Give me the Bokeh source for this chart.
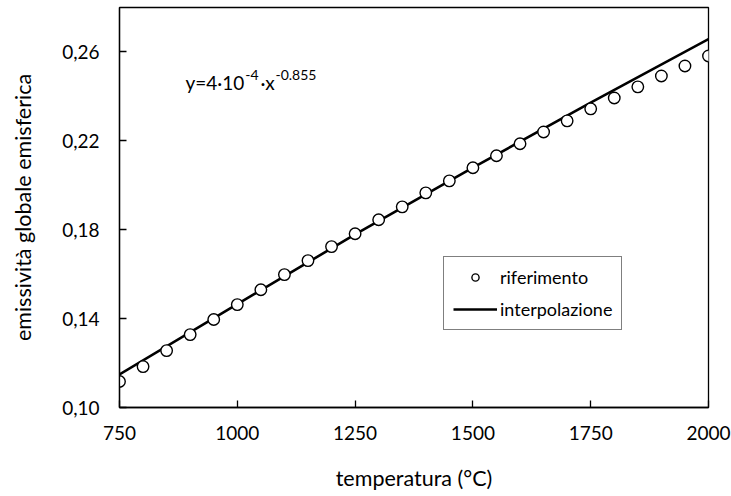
from bokeh.plotting import figure
from bokeh.models import (ColumnDataSource, FixedTicker, CustomJSTickFormatter,
                          Range1d, Label, Legend, LegendItem)
from bokeh.embed import file_html
from bokeh.resources import INLINE

# --- data ---
temp_ref = [750, 800, 850, 900, 950, 1000, 1050, 1100, 1150, 1200, 1250, 1300,
            1350, 1400, 1450, 1500, 1550, 1600, 1650, 1700, 1750, 1800, 1850,
            1900, 1950, 2000]
emis_ref = [0.1117, 0.1184, 0.1256, 0.1328, 0.1396, 0.1463, 0.1530, 0.1598,
            0.1661, 0.1724, 0.1782, 0.1845, 0.1903, 0.1966, 0.2020, 0.2079,
            0.2133, 0.2187, 0.2240, 0.2290, 0.2344, 0.2393, 0.2443, 0.2492,
            0.2537, 0.2582]
temp_fit = [750, 1000, 1250, 1500, 1750, 2000]
emis_fit = [0.1149, 0.1465, 0.1779, 0.2079, 0.2372, 0.2658]
x_ticks = [750, 1000, 1250, 1500, 1750, 2000]
y_ticks = [0.10, 0.14, 0.18, 0.22, 0.26]

FONT = "Lato"

p = figure(width=731, height=496, output_backend="svg", toolbar_location=None,
           x_range=Range1d(750, 2000), y_range=Range1d(0.10, 0.28),
           min_border_left=119, min_border_right=23, min_border_top=7,
           min_border_bottom=89)
p.background_fill_color = "white"
p.border_fill_color = "white"
p.outline_line_color = "black"
p.outline_line_width = 1.3
p.grid.visible = False

for ax in (p.xaxis[0], p.yaxis[0]):
    ax.axis_line_color = "black"
    ax.axis_line_width = 1.3
    ax.major_tick_in = 7
    ax.major_tick_out = 0
    ax.major_tick_line_color = "black"
    ax.major_tick_line_width = 1.3
    ax.minor_tick_line_color = None
    ax.major_label_text_font = FONT
    ax.major_label_text_font_size = "19px"
    ax.major_label_text_color = "black"
    ax.axis_label_text_font = FONT
    ax.axis_label_text_font_size = "21.5px"
    ax.axis_label_text_font_style = "normal"
    ax.axis_label_text_color = "black"

p.xaxis.ticker = FixedTicker(ticks=x_ticks)
p.yaxis.ticker = FixedTicker(ticks=y_ticks)
p.yaxis.formatter = CustomJSTickFormatter(code="return tick.toFixed(2).replace('.', ',');")
p.xaxis.major_label_standoff = 18
p.yaxis.major_label_standoff = 20
p.xaxis.axis_label = "temperatura (°C)"
p.yaxis.axis_label = "emissività globale emisferica"
p.xaxis.axis_label_standoff = 22
p.yaxis.axis_label_standoff = 23

src_ref = ColumnDataSource(dict(x=temp_ref, y=emis_ref))
src_fit = ColumnDataSource(dict(x=temp_fit, y=emis_fit))

r_line = p.line("x", "y", source=src_fit, line_color="black", line_width=2.6)
r_pts = p.scatter("x", "y", source=src_ref, marker="circle", size=11.5,
                  line_color="black", line_width=1.4, fill_color="white")

# equation annotation
eq_parts = [("y=4·10", 890, 0.2461, "19px"),
            ("-4", 1017, 0.2495, "14px"),
            ("·x", 1049, 0.2461, "19px"),
            ("-0.855", 1081, 0.2495, "14px")]
for txt, xx, yy, fs in eq_parts:
    p.add_layout(Label(x=xx, y=yy, text=txt, text_font=FONT, text_font_size=fs,
                       text_color="black", text_baseline="alphabetic"))

legend = Legend(items=[LegendItem(label="riferimento", renderers=[r_pts]),
                       LegendItem(label="interpolazione", renderers=[r_line])],
                location=(324, 77), orientation="vertical")
legend.border_line_color = "black"
legend.border_line_width = 1.2
legend.background_fill_color = "white"
legend.background_fill_alpha = 1
legend.label_text_font = FONT
legend.label_text_font_size = "18px"
legend.label_text_color = "black"
legend.glyph_width = 44
legend.glyph_height = 18
legend.label_height = 18
legend.label_standoff = 3
legend.spacing = 10
legend.padding = 9
legend.margin = 0
p.add_layout(legend, "center")

open("out.html", "w").write(file_html(p, INLINE))
